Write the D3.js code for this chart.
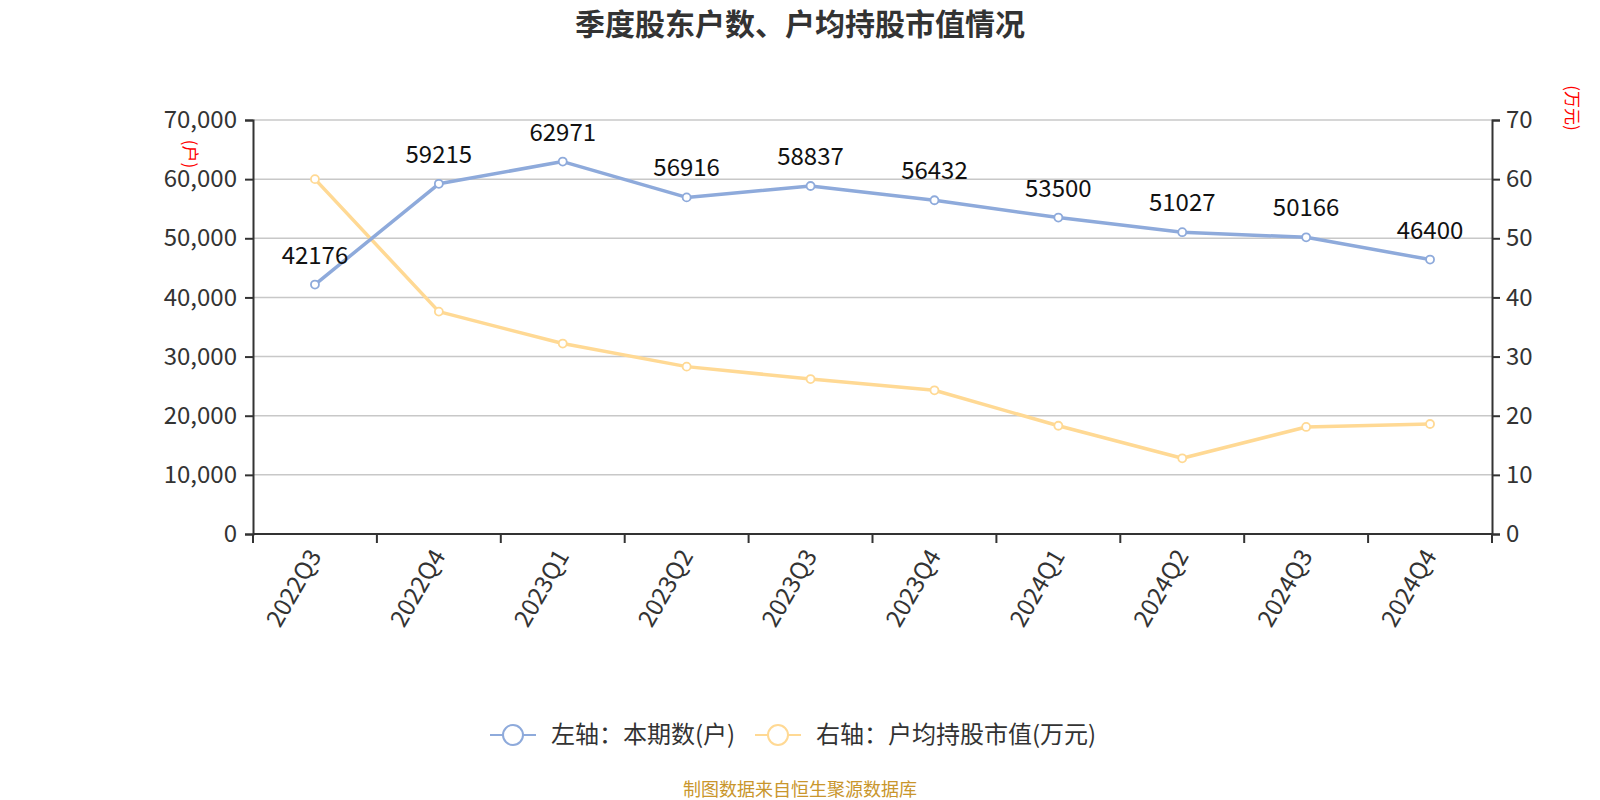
<!DOCTYPE html>
<html><head><meta charset="utf-8">
<script src="https://cdn.jsdelivr.net/npm/d3@7"></script>
<style>html,body{margin:0;padding:0;background:#fff;}svg{display:block;font-family:"Noto Sans CJK SC","Noto Sans",sans-serif;}</style>
</head><body>
<svg id="c" width="1600" height="800"></svg>
<script>
const categories = ["2022Q3","2022Q4","2023Q1","2023Q2","2023Q3","2023Q4","2024Q1","2024Q2","2024Q3","2024Q4"];
const holders = [42176,59215,62971,56916,58837,56432,53500,51027,50166,46400];
const avgValue = [60.0,37.6,32.2,28.3,26.2,24.3,18.3,12.8,18.1,18.6];
const leftTicks = [0,10000,20000,30000,40000,50000,60000,70000];
const rightTicks = [0,10,20,30,40,50,60,70];
const title = "季度股东户数、户均持股市值情况";
const legendNames = ["左轴：本期数(户)","右轴：户均持股市值(万元)"];
const colors = ["#8eaadb","#ffd994"];

const svg = d3.select("#c");
const L=253,R=1492,T=120,B=534;
const x = d3.scaleBand().domain(categories).range([L,R]);
const yl = d3.scaleLinear().domain([0,70000]).range([B,T]);
const yr = d3.scaleLinear().domain([0,70]).range([B,T]);

svg.append("text").attr("x",800).attr("y",35).attr("text-anchor","middle")
  .attr("font-size",30).attr("font-weight","bold").attr("fill","#333").text(title);

// grid
svg.append("g").selectAll("line").data(leftTicks.filter(d=>d>0)).join("line")
  .attr("x1",L).attr("x2",R).attr("y1",d=>yl(d)).attr("y2",d=>yl(d))
  .attr("stroke","#c8c8c8").attr("stroke-width",1.5);

// left axis
const gl = svg.append("g").attr("transform",`translate(${L},0)`)
  .call(d3.axisLeft(yl).tickValues(leftTicks).tickFormat(d3.format(",")).tickSize(8).tickPadding(8));
// right axis
const gr = svg.append("g").attr("transform",`translate(${R},0)`)
  .call(d3.axisRight(yr).tickValues(rightTicks).tickSize(8).tickPadding(6));
// bottom axis
const gb = svg.append("g").attr("transform",`translate(0,${B})`)
  .call(d3.axisBottom(x).tickSize(0).tickPadding(14));
[gl,gr,gb].forEach(g=>{
  g.select(".domain").attr("stroke","#333").attr("stroke-width",2);
  g.selectAll(".tick line").attr("stroke","#333").attr("stroke-width",2);
  g.selectAll("text").attr("fill","#333").attr("font-size",24).attr("font-family",'"Noto Sans CJK SC","Noto Sans",sans-serif');
});
gb.select(".domain").attr("d",`M${L},0H${R}`);
gb.selectAll(".tick text").attr("text-anchor","end").attr("dy","0.35em")
  .attr("transform","translate(2,14) rotate(-60)").attr("y",0).attr("x",-4);
// boundary ticks for band axis
const bounds = categories.map(c=>x(c)).concat([R]);
gb.append("g").selectAll("line").data(bounds).join("line")
  .attr("x1",d=>d).attr("x2",d=>d).attr("y1",0).attr("y2",9)
  .attr("stroke","#333").attr("stroke-width",2);

// axis names
svg.append("text").attr("transform",`translate(184,154) rotate(90)`).attr("text-anchor","middle")
  .attr("font-size",17).attr("fill","#ff0000").text("(户)");
svg.append("text").attr("transform",`translate(1566,108) rotate(90)`).attr("text-anchor","middle")
  .attr("font-size",17).attr("fill","#ff0000").text("(万元)");

const cx = d=>x(d)+x.bandwidth()/2;
// orange line
const lineR = d3.line().x((d,i)=>cx(categories[i])).y(d=>yr(d));
svg.append("path").datum(avgValue).attr("d",lineR).attr("fill","none")
  .attr("stroke",colors[1]).attr("stroke-width",3.5).attr("stroke-linejoin","round");
svg.append("g").selectAll("circle").data(avgValue).join("circle")
  .attr("cx",(d,i)=>cx(categories[i])).attr("cy",d=>yr(d)).attr("r",4)
  .attr("fill","#fff").attr("stroke",colors[1]).attr("stroke-width",1.8);

// blue line
const lineL = d3.line().x((d,i)=>cx(categories[i])).y(d=>yl(d));
svg.append("path").datum(holders).attr("d",lineL).attr("fill","none")
  .attr("stroke",colors[0]).attr("stroke-width",3.5).attr("stroke-linejoin","round");
svg.append("g").selectAll("circle").data(holders).join("circle")
  .attr("cx",(d,i)=>cx(categories[i])).attr("cy",d=>yl(d)).attr("r",4)
  .attr("fill","#fff").attr("stroke",colors[0]).attr("stroke-width",1.8);
svg.append("g").selectAll("text").data(holders).join("text")
  .attr("x",(d,i)=>cx(categories[i])).attr("y",d=>yl(d)-21)
  .attr("text-anchor","middle").attr("font-size",24).attr("fill","#111").text(d=>d);

// legend
const legX = [490,755];
legendNames.forEach((n,i)=>{
  const g = svg.append("g").attr("transform",`translate(${legX[i]},735)`);
  g.append("line").attr("x1",0).attr("x2",46).attr("y1",0).attr("y2",0).attr("stroke",colors[i]).attr("stroke-width",2);
  g.append("circle").attr("cx",23).attr("cy",0).attr("r",10).attr("fill","#fff").attr("stroke",colors[i]).attr("stroke-width",2);
  g.append("text").attr("x",61).attr("y",0).attr("dy","0.35em").attr("font-size",24).attr("fill","#333").text(n);
});

svg.append("text").attr("x",800).attr("y",796).attr("text-anchor","middle")
  .attr("font-size",18).attr("fill","#c9962c").text("制图数据来自恒生聚源数据库");
</script>
</body></html>
